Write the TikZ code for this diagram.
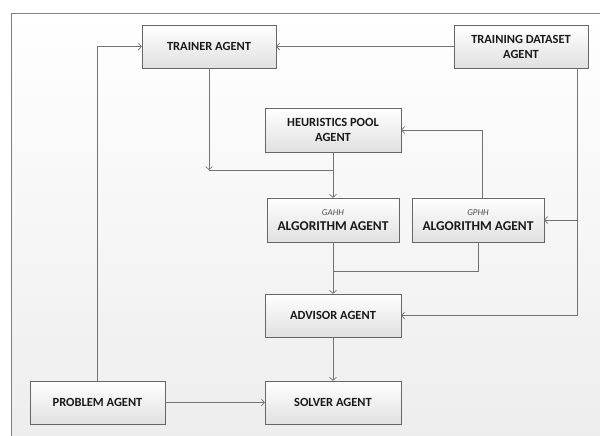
\documentclass[tikz,border=0pt]{standalone}
\usepackage{fontspec}
\setmainfont{Carlito}
\usetikzlibrary{arrows.meta}

\begin{document}
\begin{tikzpicture}[x = 1bp, y = -1bp,
	agent/.style = {draw = black!60, top color = white, bottom color = black!12, minimum width = 134bp, minimum height = 43bp, align = center, text = black!90, font = \bfseries\fontsize{12.5}{15}\selectfont},
	link/.style = {draw = black!55, line width = 0.7bp},
	arr/.style = {link, -{Straight Barb[length = 3bp, width = 7bp]}}]

\useasboundingbox (0,0) rectangle (600,436);
\shade[top color = white, bottom color = black!7] (11,13) rectangle (604,440);
\draw[black!50] (11,440) -- (11,13) -- (604,13);

\node[agent] (trainer) at (209,46.5) {TRAINER AGENT};
\node[agent] (dataset) at (521,46.5) {TRAINING DATASET\\AGENT};
\node[agent, minimum width = 136bp, minimum height = 44bp] (pool) at (333,130) {HEURISTICS POOL\\AGENT};
\node[agent, minimum width = 132bp, minimum height = 44bp] (gahh) at (333,220) {{\itshape\mdseries\fontsize{9}{10}\selectfont\color{black!70}GAHH}\\{\fontsize{13.5}{17}\selectfont ALGORITHM AGENT}};
\node[agent, minimum width = 132bp, minimum height = 44bp] (gphh) at (478,220) {{\itshape\mdseries\fontsize{9}{10}\selectfont\color{black!70}GPHH}\\{\fontsize{13.5}{17}\selectfont ALGORITHM AGENT}};
\node[agent, minimum width = 136bp] (advisor) at (333,315.5) {ADVISOR AGENT};
\node[agent, minimum width = 135bp] (problem) at (97.5,402.5) {PROBLEM AGENT};
\node[agent, minimum width = 136bp] (solver) at (333,402.5) {SOLVER AGENT};

\coordinate (tjoin) at (209,170);
\coordinate (ajoin) at (333,271.5);
\coordinate (dsouth) at ([xshift = 56bp]dataset.south);

\draw[arr] (dataset) -- (trainer);
\draw[arr] (problem.north) |- (trainer.west);
\draw[arr] (trainer.south) -- (tjoin);
\draw[link] (tjoin) -- (tjoin -| pool.south);
\draw[arr] (pool) -- (gahh);
\draw[arr] ([xshift = 4bp]gphh.north) |- (pool.east);
\draw[arr] (dsouth) |- (advisor.east);
\draw[arr] (dsouth |- gphh.east) -- (gphh.east);
\draw[link] (gphh.south) |- (ajoin);
\draw[arr] (gahh) -- (advisor);
\draw[arr] (advisor) -- (solver);
\draw[arr] (problem) -- (solver);
\end{tikzpicture}
\end{document}
